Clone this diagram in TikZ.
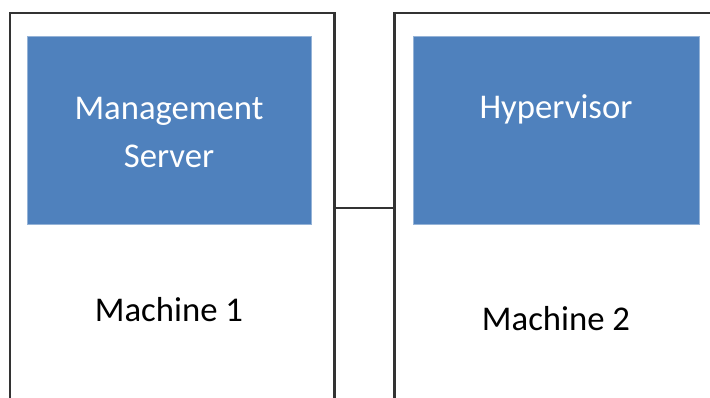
\documentclass[tikz,border=0pt]{standalone}
\usepackage{fontspec}
\setmainfont{Carlito}
\definecolor{offblue}{HTML}{4F81BD}
\definecolor{edge}{HTML}{333333}
\begin{document}
\begin{tikzpicture}[x=1pt,y=-1pt,
  machine/.style={draw=edge,line width=2.4pt},
  comp/.style={fill=offblue,draw=offblue!60!white,line width=0.8pt},
  comptext/.style={text=white,font=\fontsize{34.7}{48}\selectfont,align=center},
  mtext/.style={text=black,font=\fontsize{34.7}{48}\selectfont}]
\useasboundingbox (0,0) rectangle (710,398);
\begin{scope}
\clip (0,0) rectangle (710,398);
\draw[machine] (10,13) rectangle (334.5,420);
\draw[machine] (394.5,13) rectangle (740,420);
\coordinate (m1r) at (334.5,208);
\coordinate (m2l) at (394.5,208);
\draw[edge,line width=2pt] (m1r) -- (m2l);
\fill[comp] (27,36) rectangle (311,224);
\fill[comp] (413,36) rectangle (699,224);
\end{scope}
\node[comptext] (ms) at (169,132) {Management\\Server};
\node[comptext] (hv) at (556,109) {Hypervisor};
\node[mtext] (m1) at (169,310) {Machine 1};
\node[mtext] (m2) at (556,319) {Machine 2};
\end{tikzpicture}
\end{document}
